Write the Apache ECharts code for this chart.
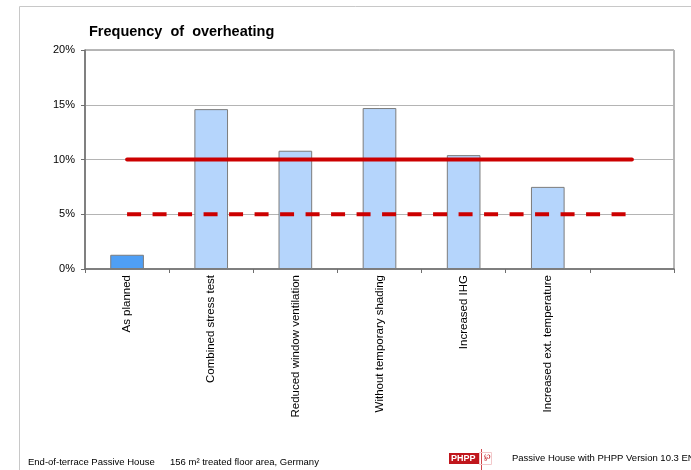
<!DOCTYPE html>
<html>
<head>
<meta charset="utf-8">
<script src="https://cdn.jsdelivr.net/npm/echarts@6/dist/echarts.min.js"></script>
<style>
  html, body { margin: 0; padding: 0; background: #ffffff; }
  #chart { width: 691px; height: 470px; }
</style>
</head>
<body>
<div id="chart"></div>
<script>
// Scenario names along the x axis (last slot is left empty)
const categories = [
  'As planned',
  'Combined stress test',
  'Reduced window ventilation',
  'Without temporary shading',
  'Increased IHG',
  'Increased ext. temperature',
  ''
];

// Frequency of overheating per scenario, in %
const overheatingValues = [1.3, 14.6, 10.8, 14.7, 10.4, 7.5, null];

// Limit lines, in %
const upperLimit = [10, 10, 10, 10, 10, 10, 10];
const recommendedLimit = [5, 5, 5, 5, 5, 5, 5];

// Y axis tick settings
const yMin = 0;
const yMax = 20;
const yStep = 5;

const FONT = '"Liberation Sans", Arial, sans-serif';

const chart = echarts.init(document.getElementById('chart'), null, { renderer: 'canvas' });

const barData = overheatingValues.map((v, i) => ({
  value: v,
  itemStyle: { color: i === 0 ? '#4f9ff5' : '#b5d5fc' }
}));

chart.setOption({
  animation: false,
  backgroundColor: '#ffffff',
  title: {
    text: 'Frequency  of  overheating',
    left: 84,
    top: 19,
    textStyle: { fontFamily: FONT, fontSize: 14.5, fontWeight: 'bold', color: '#000000' }
  },
  grid: {
    left: 85, top: 50, width: 589, height: 219,
    show: true,
    borderColor: '#6e6e6e',
    borderWidth: 1,
    backgroundColor: 'transparent'
  },
  xAxis: {
    type: 'category',
    data: categories,
    axisLine: { lineStyle: { color: '#6e6e6e', width: 1.5 } },
    axisTick: { show: true, length: 4, lineStyle: { color: '#6e6e6e' } },
    axisLabel: {
      rotate: 90,
      interval: 0,
      margin: 6,
      fontFamily: FONT,
      fontSize: 11.5,
      color: '#000000'
    },
    splitLine: { show: false }
  },
  yAxis: {
    type: 'value',
    min: yMin,
    max: yMax,
    interval: yStep,
    axisLine: { show: true, lineStyle: { color: '#6e6e6e', width: 1.5 } },
    axisTick: { show: true, length: 4, lineStyle: { color: '#6e6e6e' } },
    axisLabel: {
      formatter: '{value}%',
      margin: 10,
      fontFamily: FONT,
      fontSize: 11,
      color: '#000000'
    },
    splitLine: { show: true, lineStyle: { color: '#b4b4b4', width: 1 } }
  },
  series: [
    {
      type: 'bar',
      data: barData,
      barWidth: '40%',
      itemStyle: { borderColor: '#7c7c7c', borderWidth: 1 },
      z: 2
    },
    {
      type: 'line',
      data: upperLimit,
      symbol: 'none',
      lineStyle: { color: '#cc0000', width: 4, cap: 'round' },
      z: 3
    },
    {
      type: 'line',
      data: recommendedLimit,
      symbol: 'none',
      lineStyle: { color: '#cc0000', width: 4, type: [14, 11.5], cap: 'butt' },
      z: 3
    }
  ],
  graphic: [
    // outer frame lines
    { type: 'line', shape: { x1: 19.5, y1: 6.5, x2: 691, y2: 6.5 }, style: { stroke: '#c8c8c8', lineWidth: 1 } },
    { type: 'line', shape: { x1: 19.5, y1: 6.5, x2: 19.5, y2: 470 }, style: { stroke: '#c8c8c8', lineWidth: 1 } },
    // footer texts
    { type: 'text', left: 28, top: 457, style: { text: 'End-of-terrace Passive House', font: '9.5px ' + FONT, fill: '#000000' } },
    { type: 'text', left: 170, top: 457, style: { text: '156 m² treated floor area, Germany', font: '9.5px ' + FONT, fill: '#000000' } },
    { type: 'text', left: 512, top: 453, style: { text: 'Passive House with PHPP Version 10.3 EN', font: '9.5px ' + FONT, fill: '#000000' } },
    // PHPP logo
    { type: 'rect', shape: { x: 449, y: 453, width: 30, height: 11 }, style: { fill: '#c0161c' } },
    { type: 'text', left: 451, top: 454, style: { text: 'PHPP', font: 'bold 9px ' + FONT, fill: '#ffffff' } },
    { type: 'line', shape: { x1: 481.5, y1: 449, x2: 481.5, y2: 470 }, style: { stroke: '#d0454a', lineWidth: 1 } },
    { type: 'rect', shape: { x: 479.5, y: 452.5, width: 12, height: 12 }, style: { fill: 'none', stroke: '#f2c8ca', lineWidth: 1 } },
    { type: 'text', left: 484, top: 453, style: { text: '℘', font: '8px ' + FONT, fill: '#c0161c' } }
  ]
});
</script>
</body>
</html>
